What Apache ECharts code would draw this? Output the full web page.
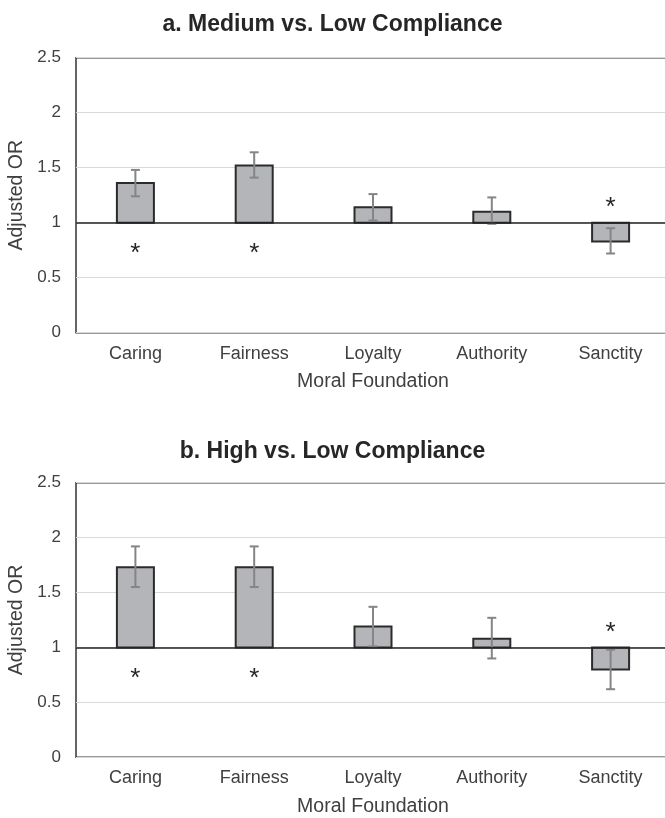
<!DOCTYPE html>
<html>
<head>
<meta charset="utf-8">
<script src="https://cdn.jsdelivr.net/npm/echarts@6/dist/echarts.min.js"></script>
<style>html,body{margin:0;padding:0;background:#fff;}#c{width:665px;height:818px;}</style>
</head>
<body>
<div id="c"></div>
<script>
const categories = ['Caring', 'Fairness', 'Loyalty', 'Authority', 'Sanctity'];
const yTicks = [0, 0.5, 1, 1.5, 2, 2.5];
// a. Medium vs. Low Compliance
const medOR = [1.36, 1.52, 1.14, 1.10, 0.83];
const medLo = [1.24, 1.41, 1.02, 0.99, 0.72];
const medHi = [1.48, 1.64, 1.26, 1.23, 0.95];
const medSig = [1, 1, 0, 0, 1];
// b. High vs. Low Compliance
const highOR = [1.73, 1.73, 1.19, 1.08, 0.80];
const highLo = [1.55, 1.55, 1.01, 0.90, 0.62];
const highHi = [1.92, 1.92, 1.37, 1.27, 0.98];
const highSig = [1, 1, 0, 0, 1];
const titles = ['a. Medium vs. Low Compliance', 'b. High vs. Low Compliance'];
const baseline = 1;

const FONT = '"Liberation Sans", Arial, sans-serif';
const chart = echarts.init(document.getElementById('c'), null, {renderer: 'canvas'});

const grids = [
  {left: 76, width: 594, top: 57.7, height: 275},
  {left: 76, width: 594, top: 482.7, height: 274.6}
];

function xAxisFor(i) {
  return {
    type: 'category', gridIndex: i, data: categories,
    axisLine: {show: false}, axisTick: {show: false},
    axisLabel: {color: '#404040', fontSize: 18, fontFamily: FONT, margin: 12},
    name: 'Moral Foundation', nameLocation: 'middle', nameGap: 39,
    nameTextStyle: {color: '#404040', fontSize: 19.5, fontFamily: FONT}
  };
}
function yAxisFor(i) {
  return {
    type: 'value', gridIndex: i, min: 0, max: 2.5, interval: 0.5,
    axisLine: {show: false}, axisTick: {show: false},
    splitLine: {show: true, lineStyle: {color: '#d9d9d9', width: 1.2}},
    axisLabel: {color: '#404040', fontSize: 17, fontFamily: FONT, margin: 15},
    name: 'Adjusted OR', nameLocation: 'middle', nameGap: 45, nameRotate: 90,
    nameTextStyle: {color: '#404040', fontSize: 19.5, fontFamily: FONT}
  };
}

function barSeries(i, vals) {
  return {
    type: 'custom', xAxisIndex: i, yAxisIndex: i, z: 2,
    data: vals.map((v, k) => [k, v]),
    renderItem: function (params, api) {
      const x = api.value(0), v = api.value(1);
      const p = api.coord([x, v]);
      const b = api.coord([x, baseline]);
      const w = 37;
      return {
        type: 'rect',
        shape: {x: p[0] - w / 2, y: Math.min(p[1], b[1]), width: w, height: Math.abs(b[1] - p[1])},
        style: {fill: '#b4b5b9', stroke: '#2b2b2b', lineWidth: 2}
      };
    }
  };
}
function errSeries(i, lo, hi) {
  return {
    type: 'custom', xAxisIndex: i, yAxisIndex: i, z: 3,
    data: lo.map((l, k) => [k, l, hi[k]]),
    renderItem: function (params, api) {
      const x = api.value(0);
      const a = api.coord([x, api.value(1)]);
      const b = api.coord([x, api.value(2)]);
      const c = 4.5;
      const st = {stroke: '#858585', lineWidth: 2};
      return {
        type: 'group',
        children: [
          {type: 'line', shape: {x1: a[0], y1: a[1], x2: b[0], y2: b[1]}, style: st},
          {type: 'line', shape: {x1: a[0] - c, y1: a[1], x2: a[0] + c, y2: a[1]}, style: st},
          {type: 'line', shape: {x1: b[0] - c, y1: b[1], x2: b[0] + c, y2: b[1]}, style: st}
        ]
      };
    }
  };
}
function sigSeries(i, vals, sig) {
  const d = [];
  vals.forEach((v, k) => { if (sig[k]) d.push([k, v]); });
  return {
    type: 'custom', xAxisIndex: i, yAxisIndex: i, z: 4,
    data: d,
    renderItem: function (params, api) {
      const x = api.value(0), v = api.value(1);
      const b = api.coord([x, baseline]);
      const above = v < baseline;
      return {
        type: 'text',
        style: {
          x: b[0], y: above ? b[1] - 28 : b[1] + 18.5,
          text: '*', fill: '#262626', fontSize: 26, fontFamily: FONT,
          align: 'center', verticalAlign: 'top'
        }
      };
    }
  };
}
function baseLineSeries(i) {
  return {
    type: 'line', xAxisIndex: i, yAxisIndex: i, data: [], z: 5,
    markLine: {
      silent: true, symbol: 'none', label: {show: false},
      lineStyle: {color: '#222', width: 1.5, type: 'solid'},
      data: [{yAxis: baseline}]
    }
  };
}

chart.setOption({
  animation: false,
  backgroundColor: '#fff',
  title: [
    {text: titles[0], left: 'center', top: 8.5, textStyle: {fontSize: 23, fontWeight: 'bold', color: '#262626', fontFamily: FONT}},
    {text: titles[1], left: 'center', top: 435, textStyle: {fontSize: 23, fontWeight: 'bold', color: '#262626', fontFamily: FONT}}
  ],
  grid: grids.map(g => Object.assign({show: true, borderColor: '#333', borderWidth: 1.5, backgroundColor: 'transparent', containLabel: false, outerBoundsMode: 'none'}, g)),
  xAxis: [xAxisFor(0), xAxisFor(1)],
  yAxis: [yAxisFor(0), yAxisFor(1)],
  series: [
    barSeries(0, medOR), errSeries(0, medLo, medHi), sigSeries(0, medOR, medSig), baseLineSeries(0),
    barSeries(1, highOR), errSeries(1, highLo, highHi), sigSeries(1, highOR, highSig), baseLineSeries(1)
  ]
});
</script>
</body>
</html>
